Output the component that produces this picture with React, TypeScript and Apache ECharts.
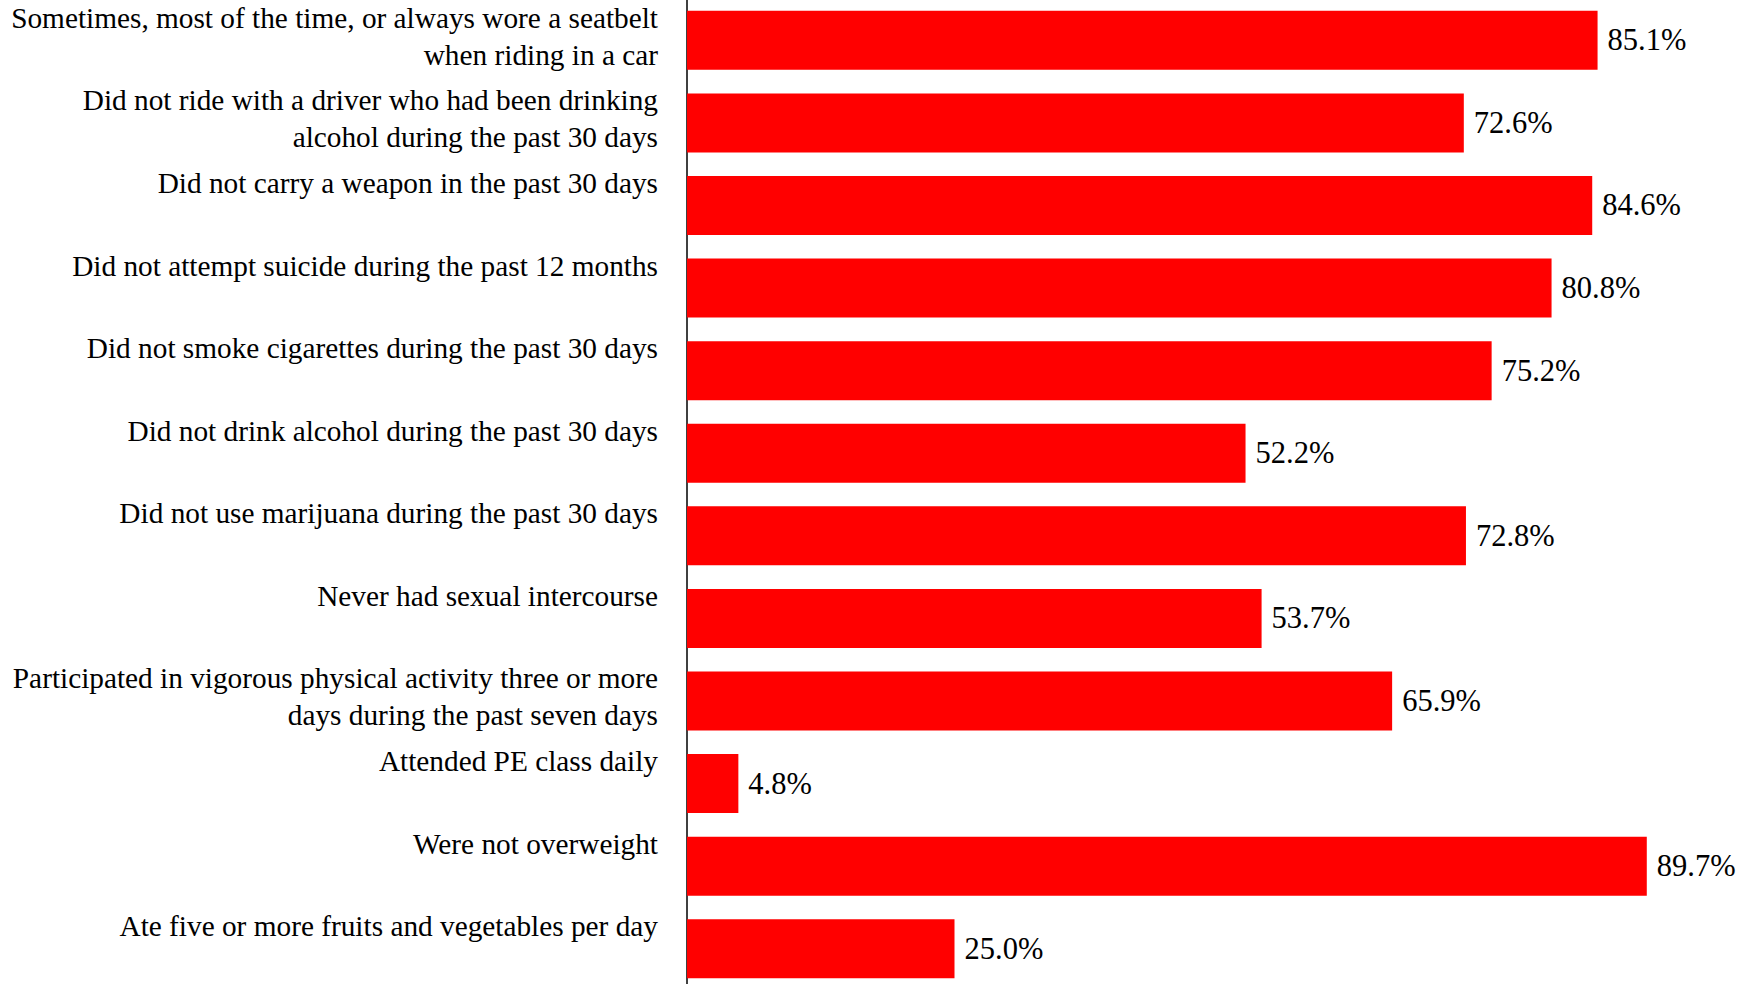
import React, { useEffect, useRef } from "react";
import * as echarts from "echarts";

const categories: string[] = [
  "Sometimes, most of the time, or always wore a seatbelt\nwhen riding in a car",
  "Did not ride with a driver who had been drinking\nalcohol during the past 30 days",
  "Did not carry a weapon in the past 30 days",
  "Did not attempt suicide during the past 12 months",
  "Did not smoke cigarettes during the past 30 days",
  "Did not drink alcohol during the past 30 days",
  "Did not use marijuana during the past 30 days",
  "Never had sexual intercourse",
  "Participated in vigorous physical activity three or more\ndays during the past seven days",
  "Attended PE class daily",
  "Were not overweight",
  "Ate five or more fruits and vegetables per day",
];

const values: number[] = [85.1, 72.6, 84.6, 80.8, 75.2, 52.2, 72.8, 53.7, 65.9, 4.8, 89.7, 25.0];

const FONT = '"Liberation Serif", "Times New Roman", serif';

export default function App() {
  const ref = useRef<HTMLDivElement>(null);
  useEffect(() => {
    if (!ref.current) return;
    const chart = echarts.init(ref.current, null, { renderer: "svg" });
    chart.setOption({
      animation: false,
      backgroundColor: "#ffffff",
      grid: {
        left: 687,
        top: -1,
        width: 1070,
        height: 991,
        containLabel: false,
        outerBoundsMode: "none",
      },
      xAxis: {
        type: "value",
        min: 0,
        max: 100,
        show: false,
      },
      yAxis: {
        type: "category",
        inverse: true,
        data: categories,
        axisLine: { show: true, lineStyle: { color: "#000000", width: 1.5 } },
        axisTick: { show: false },
        splitLine: { show: false },
        axisLabel: {
          margin: 29,
          color: "#000000",
          fontFamily: FONT,
          fontSize: 29.3,
          lineHeight: 37,
          align: "right",
          formatter: (v: string) => {
            const lines = v.split("\n");
            if (lines.length > 1) {
              return lines.map((l) => `{t|${l}}`).join("\n") + "\n{s| }";
            }
            return `{t|${v}}\n{g| }`;
          },
          rich: {
            t: {
              fontFamily: FONT,
              fontSize: 29.3,
              lineHeight: 37,
              color: "#000000",
              align: "right",
            },
            s: { fontSize: 1, lineHeight: 8 },
            g: { fontSize: 1, lineHeight: 45 },
          },
        },
      },
      series: [
        {
          type: "bar",
          data: values,
          barWidth: 59,
          itemStyle: { color: "#ff0000" },
          label: {
            show: true,
            position: "right",
            distance: 10,
            color: "#000000",
            fontFamily: FONT,
            fontSize: 30.5,
            formatter: (p: any) => `${Number(p.value).toFixed(1)}%`,
          },
        },
      ],
    });
    return () => chart.dispose();
  }, []);
  return (
    <div
      ref={ref}
      style={{ position: "fixed", left: 0, top: 0, width: 1756, height: 984, background: "#fff" }}
    />
  );
}
